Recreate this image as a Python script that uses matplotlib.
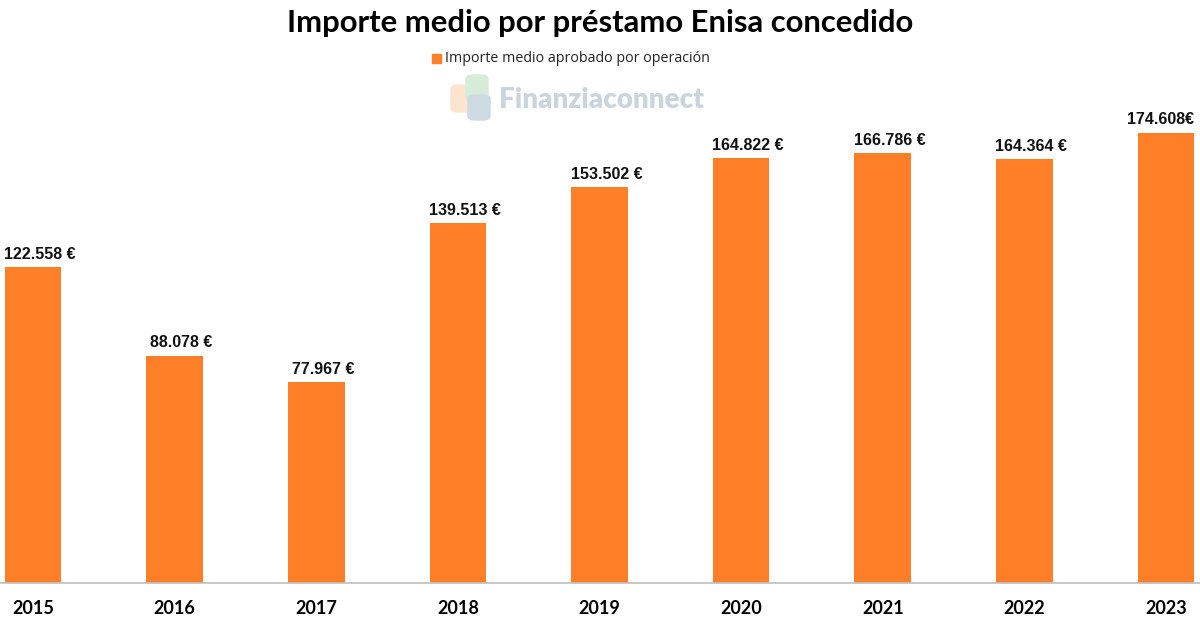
import matplotlib.pyplot as plt
from matplotlib.patches import FancyBboxPatch, Rectangle

years = ["2015", "2016", "2017", "2018", "2019", "2020", "2021", "2022", "2023"]
importe = [122558, 88078, 77967, 139513, 153502, 164822, 166786, 164364, 174608]
etiquetas = ["122.558 €", "88.078 €", "77.967 €", "139.513 €", "153.502 €",
             "164.822 €", "166.786 €", "164.364 €", "174.608€"]

orange = "#fe7f27"
W, H = 1200, 628

fig = plt.figure(figsize=(12, 6.28), dpi=100)

def fx(px):
    return px / W

def fy(py):
    return 1 - py / H

ax = fig.add_axes([0, fy(583), 1, fy(100) - fy(583)])
x = range(len(years))
ax.bar(x, importe, width=0.4, color=orange, zorder=2)
ax.set_xlim(-0.233, 8.24)
ax.set_ylim(0, 174608 * 483 / 450)
for s in ["top", "right", "left"]:
    ax.spines[s].set_visible(False)
ax.spines["bottom"].set_color("#bfbfbf")
ax.spines["bottom"].set_linewidth(1.2)
ax.set_yticks([])
ax.set_xticks(list(x))
ax.set_xticklabels(years, fontfamily="Lato", fontweight="bold", fontsize=13)
ax.tick_params(axis="x", length=0, pad=12)

for xi, v, t in zip(x, importe, etiquetas):
    dx = -4 if xi == len(years) - 1 else 5
    ax.annotate(t, (xi, v), xytext=(dx, 4), textcoords="offset points",
                ha="center", va="bottom", fontfamily="Liberation Sans",
                fontweight="bold", fontsize=11.5, color="#111111")

fig.text(0.5, fy(23), "Importe medio por préstamo Enisa concedido", ha="center",
         va="center", fontfamily="Lato", fontweight="bold", fontsize=22.3)

# legend
fig.patches.append(Rectangle((fx(432), fy(63)), fx(9), 9 / H, color=orange,
                             transform=fig.transFigure))
fig.text(fx(445), fy(58), "Importe medio aprobado por operación", ha="left",
         va="center", fontfamily="Open Sans", fontsize=10.3, color="#222222")

# watermark logo
for (x0, y0, w, h, c) in [(451, 112, 21, 27, "#fde4cf"),
                          (466, 100, 22, 25, "#d6ecd9"),
                          (468, 120, 22, 25, "#cdd9e3")]:
    fig.patches.append(FancyBboxPatch((fx(x0), fy(y0)), fx(w), h / H,
                                      boxstyle="round,pad=0,rounding_size=0.006",
                                      color=c, transform=fig.transFigure, zorder=1))
fig.text(fx(499), fy(100), "Finanziaconnect", ha="left", va="center",
         fontfamily="Lato", fontweight="heavy", fontsize=20, color="#c9d4dd")

fig.savefig("out.png", dpi=100)
